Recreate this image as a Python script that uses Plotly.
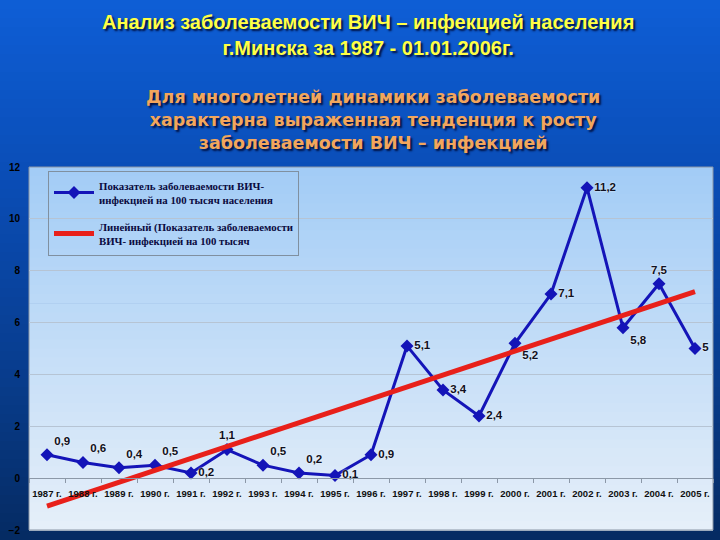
import numpy as np
import plotly.graph_objects as go

years = ["1987 г.", "1988 г.", "1989 г.", "1990 г.", "1991 г.", "1992 г.", "1993 г.",
         "1994 г.", "1995 г.", "1996 г.", "1997 г.", "1998 г.", "1999 г.", "2000 г.",
         "2001 г.", "2002 г.", "2003 г.", "2004 г.", "2005 г."]
incidence = [0.9, 0.6, 0.4, 0.5, 0.2, 1.1, 0.5, 0.2, 0.1, 0.9,
             5.1, 3.4, 2.4, 5.2, 7.1, 11.2, 5.8, 7.5, 5]
label_pos = ["top right", "top right", "top right", "top right", "middle right", "top center",
             "top right", "top right", "middle right", "middle right", "middle right",
             "middle right", "middle right", "bottom right", "middle right", "middle right",
             "bottom right", "top center", "middle right"]
y_ticks = [-2, 0, 2, 4, 6, 8, 10, 12]

labels = [str(v).replace(".", ",") for v in incidence]
idx = np.arange(len(incidence))
slope, intercept = np.polyfit(idx, incidence, 1)
trend = slope * idx + intercept

W, H = 720, 540
ml, mr, mt, mb = 29, 7, 167, 10
pw, ph = W - ml - mr, H - mt - mb

fig = go.Figure()
fig.add_trace(go.Scatter(
    x=years, y=incidence, mode="lines+markers+text",
    name="Показатель заболеваемости ВИЧ-<br>инфекцией на 100 тысяч населения",
    legendgroup="a",
    line=dict(color="#1414B8", width=3),
    marker=dict(symbol="diamond", size=10, color="#1414B8"),
    text=labels, textposition=label_pos,
    textfont=dict(family="Liberation Sans", size=11.5, color="#101020", weight="bold",
                  shadow="0px 0px 2px white"),
))
fig.add_trace(go.Scatter(
    x=years, y=trend, mode="lines",
    name="Линейный (Показатель заболеваемости<br>ВИЧ- инфекцией на 100 тысяч",
    legendgroup="b",
    line=dict(color="#E8201A", width=5),
))

def lerp(c1, c2, t):
    a = [int(c1[i:i + 2], 16) for i in (1, 3, 5)]
    b = [int(c2[i:i + 2], 16) for i in (1, 3, 5)]
    return "#%02x%02x%02x" % tuple(round(a[k] + (b[k] - a[k]) * t) for k in range(3))

shapes = []
# slide background gradient
stops = [(0.0, "#0E5ED6"), (0.35, "#0A4CB4"), (0.7, "#083C8C"), (1.0, "#052B62")]
n = 60
x0p, x1p = -ml / pw, (W - ml) / pw
for i in range(n):
    t = (i + 0.5) / n
    for j in range(len(stops) - 1):
        if stops[j][0] <= t <= stops[j + 1][0]:
            tt = (t - stops[j][0]) / (stops[j + 1][0] - stops[j][0])
            col = lerp(stops[j][1], stops[j + 1][1], tt)
            break
    ytop = H - i * H / n
    ybot = H - (i + 1) * H / n - 1
    shapes.append(dict(type="rect", xref="paper", yref="paper", layer="below",
                       x0=x0p, x1=x1p, y0=(ybot - mb) / ph, y1=(ytop - mb) / ph,
                       line=dict(width=0), fillcolor=col))
# plot area gradient
m = 40
for i in range(m):
    t = (i + 0.5) / m
    col = lerp("#A2CCF6", "#E6EFF9", t)
    shapes.append(dict(type="rect", xref="paper", yref="paper", layer="below",
                       x0=0, x1=1, y0=1 - (i + 1) / m - 0.002, y1=1 - i / m,
                       line=dict(width=0), fillcolor=col))
shapes.append(dict(type="rect", xref="paper", yref="paper", layer="below",
                   x0=0, x1=1, y0=0, y1=1, line=dict(width=1, color="#8A96A6")))
fig.update_layout(shapes=shapes)

fig.add_annotation(
    xref="paper", yref="paper", x=(368 - ml) / pw, y=(H - 35 - mb) / ph,
    text="<b>Анализ заболеваемости ВИЧ – инфекцией населения<br>г.Минска за 1987 - 01.01.2006г.</b>",
    showarrow=False, xanchor="center", yanchor="middle",
    font=dict(family="Liberation Sans", size=20, color="#FFFF44", shadow="2px 2px 2px #001040"),
)
fig.add_annotation(
    xref="paper", yref="paper", x=(373 - ml) / pw, y=(H - 120 - mb) / ph,
    text="<b>Для многолетней динамики заболеваемости<br>характерна выраженная тенденция к росту<br>заболеваемости ВИЧ – инфекцией</b>",
    showarrow=False, xanchor="center", yanchor="middle",
    font=dict(family="DejaVu Sans", size=17.5, color="#F2A65C", shadow="2px 2px 2px #001040"),
)

fig.update_layout(
    width=W, height=H,
    margin=dict(l=ml, r=mr, t=mt, b=mb, autoexpand=False),
    paper_bgcolor="#0A4CB4", plot_bgcolor="rgba(0,0,0,0)",
    showlegend=True,
    legend=dict(x=(48 - ml) / pw, y=(H - 171 - mb) / ph, xanchor="left", yanchor="top",
                bgcolor="rgba(0,0,0,0)", bordercolor="#8090A0", borderwidth=1,
                font=dict(family="Liberation Serif", size=10.8, color="#0A0A40", weight="bold"),
                tracegroupgap=10, itemwidth=40, traceorder="grouped"),
    xaxis=dict(type="category", range=[-0.5, len(years) - 0.5], anchor="free",
               position=2 / 14, showgrid=False, showline=True, linecolor="#8C98A8",
               ticks="outside", tickson="boundaries", ticklen=4, tickcolor="#8C98A8",
               tickangle=0, automargin=False, ticklabelstandoff=6,
               tickfont=dict(family="Liberation Sans Narrow, Liberation Sans", size=9.5,
                             color="#101010", weight="bold"),
               zeroline=False),
    yaxis=dict(range=[-2, 12], tickvals=y_ticks, showgrid=True, gridcolor="#B6C4D4",
               gridwidth=1, zeroline=False, showline=False, ticks="",
               ticklabelstandoff=8, automargin=False,
               tickfont=dict(family="Liberation Sans", size=10, color="#000000", weight="bold")),
)

fig.write_html("out.html", config={"displayModeBar": False},
               post_script="document.body.style.margin='0px';document.body.style.overflow='hidden';")
